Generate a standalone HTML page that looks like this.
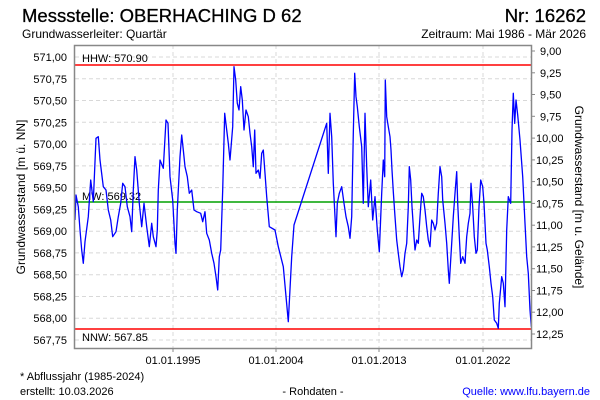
<!DOCTYPE html>
<html><head><meta charset="utf-8"><style>
html,body{margin:0;padding:0;background:#fff;}
svg{display:block;font-family:"Liberation Sans",sans-serif;}
</style></head><body>
<svg width="600" height="400" viewBox="0 0 600 400" xmlns="http://www.w3.org/2000/svg">
<rect width="600" height="400" fill="#fff"/>
<text x="22" y="22" font-size="18.5" font-weight="500" stroke="#000" stroke-width="0.3">Messstelle: OBERHACHING D 62</text>
<text x="586" y="22" font-size="18.5" text-anchor="end" stroke="#000" stroke-width="0.3">Nr: 16262</text>
<text x="22" y="38" font-size="12">Grundwasserleiter: Quartär</text>
<text x="586" y="38" font-size="12" text-anchor="end">Zeitraum: Mai 1986 - Mär 2026</text>
<g stroke="#d8d8d8" stroke-width="1" stroke-dasharray="4,3">
<line x1="75" x2="531" y1="57" y2="57"/><line x1="75" x2="531" y1="78.8" y2="78.8"/><line x1="75" x2="531" y1="100.5" y2="100.5"/><line x1="75" x2="531" y1="122.3" y2="122.3"/><line x1="75" x2="531" y1="144.1" y2="144.1"/><line x1="75" x2="531" y1="165.9" y2="165.9"/><line x1="75" x2="531" y1="187.6" y2="187.6"/><line x1="75" x2="531" y1="209.4" y2="209.4"/><line x1="75" x2="531" y1="231.2" y2="231.2"/><line x1="75" x2="531" y1="252.9" y2="252.9"/><line x1="75" x2="531" y1="274.7" y2="274.7"/><line x1="75" x2="531" y1="296.5" y2="296.5"/><line x1="75" x2="531" y1="318.2" y2="318.2"/><line x1="75" x2="531" y1="340" y2="340"/>
<line x1="173" x2="173" y1="45" y2="348"/><line x1="276" x2="276" y1="45" y2="348"/><line x1="379" x2="379" y1="45" y2="348"/><line x1="483" x2="483" y1="45" y2="348"/>
</g>
<g font-size="11" text-anchor="end">
<text x="67" y="61">571,00</text><text x="67" y="82.8">570,75</text><text x="67" y="104.5">570,50</text><text x="67" y="126.3">570,25</text><text x="67" y="148.1">570,00</text><text x="67" y="169.9">569,75</text><text x="67" y="191.6">569,50</text><text x="67" y="213.4">569,25</text><text x="67" y="235.2">569,00</text><text x="67" y="256.9">568,75</text><text x="67" y="278.7">568,50</text><text x="67" y="300.5">568,25</text><text x="67" y="322.2">568,00</text><text x="67" y="344">567,75</text>
</g>
<g font-size="11">
<text x="540" y="55">9,00</text><text x="540" y="76.8">9,25</text><text x="540" y="98.5">9,50</text><text x="540" y="120.3">9,75</text><text x="536" y="142.1">10,00</text><text x="536" y="163.9">10,25</text><text x="536" y="185.6">10,50</text><text x="536" y="207.4">10,75</text><text x="536" y="229.2">11,00</text><text x="536" y="250.9">11,25</text><text x="536" y="272.7">11,50</text><text x="536" y="294.5">11,75</text><text x="536" y="316.2">12,00</text><text x="536" y="338">12,25</text>
</g>
<g stroke="#888" stroke-width="1">
<line x1="531" x2="535" y1="51" y2="51"/><line x1="531" x2="535" y1="72.8" y2="72.8"/><line x1="531" x2="535" y1="94.5" y2="94.5"/><line x1="531" x2="535" y1="116.3" y2="116.3"/><line x1="531" x2="535" y1="138.1" y2="138.1"/><line x1="531" x2="535" y1="159.9" y2="159.9"/><line x1="531" x2="535" y1="181.6" y2="181.6"/><line x1="531" x2="535" y1="203.4" y2="203.4"/><line x1="531" x2="535" y1="225.2" y2="225.2"/><line x1="531" x2="535" y1="246.9" y2="246.9"/><line x1="531" x2="535" y1="268.7" y2="268.7"/><line x1="531" x2="535" y1="290.5" y2="290.5"/><line x1="531" x2="535" y1="312.2" y2="312.2"/><line x1="531" x2="535" y1="334" y2="334"/>
<line x1="173" x2="173" y1="348" y2="352"/><line x1="276" x2="276" y1="348" y2="352"/><line x1="379" x2="379" y1="348" y2="352"/><line x1="483" x2="483" y1="348" y2="352"/>
</g>
<g font-size="11" text-anchor="middle">
<text x="173" y="364">01.01.1995</text><text x="276" y="364">01.01.2004</text><text x="379" y="364">01.01.2013</text><text x="483" y="364">01.01.2022</text>
</g>
<text transform="translate(25,197) rotate(-90)" font-size="12" text-anchor="middle">Grundwasserstand [m ü. NN]</text>
<text transform="translate(575,197) rotate(90)" font-size="12" text-anchor="middle">Grundwasserstand [m u. Gelände]</text>
<line x1="75" x2="531" y1="65" y2="65" stroke="#ff0000" stroke-width="1.5"/>
<line x1="75" x2="531" y1="329" y2="329" stroke="#ff0000" stroke-width="1.5"/>
<line x1="75" x2="531" y1="202" y2="202" stroke="#00a000" stroke-width="1.5"/>
<text x="82" y="62" font-size="11">HHW: 570.90</text>
<text x="82" y="200" font-size="11">MW: 569.32</text>
<text x="82" y="341" font-size="11">NNW: 567.85</text>
<polyline fill="none" stroke="#0000ff" stroke-width="1.3" stroke-linejoin="round" points="75,220 76,195 78.3,206.7 80,230 81.7,250 83.3,263.3 85,241.7 88.3,216.7 90.7,180 93.3,201.7 96,138.3 98.3,136.7 100,160 103.3,186.7 106,190 108.3,210 110.7,220 112.7,236.7 116,231.7 118.3,216.7 120.7,203.3 122.7,183.3 125,186.7 127.3,206.7 130,216.7 131.7,231.7 133.3,190 135,156.7 136.7,170 139.3,203.3 141.7,226.7 144,203.3 146.7,226.7 149.3,246.7 151.7,223.3 153.3,236.7 156,246.7 157.3,230 158.3,190 160,160 163.3,168.3 166,120 168,123.3 170,176.7 172.7,200 175,243.3 176,253.3 177.3,210 180,156.7 181.7,135 183.3,150 185,166.7 187.3,176.7 189.3,193.3 191.7,190 194,210 196.7,211.7 200.7,213.3 202.7,221.7 205,211.7 206.7,233.3 209.3,240 211.7,253.3 214,263.3 216,276.7 217.7,290 219.3,256.7 220.7,250 222.7,190 224.7,113.3 226.7,130 228.3,143.3 230,160 232.7,126.7 234,66.7 235.7,80 237.3,103.3 239,110 240.7,86.7 242.3,100 244,130 246,110 248.3,116.7 250,133.3 251.7,146.7 253.3,166.7 254.7,130 256,173.3 258.3,170 260,178.3 261.7,153.3 263.3,150 265,173.3 266.7,196.7 269.3,226.7 275,230 278.3,246.7 283.3,266.7 288.3,321.7 291.7,256.7 294,225 326.7,123.3 328.3,173.3 330,113.3 331.7,136.7 333.3,183.3 335,216.7 336,236.7 337.3,203.3 339.3,193.3 341.7,186.7 344,203.3 346,216.7 348.3,226.7 350,238.3 351.7,216.7 353.3,133.3 354.7,73.3 356,96.7 357.3,106.7 359.3,126.7 361.7,146.7 363.3,203.3 365,113.3 366.7,166.7 368.3,206.7 370.7,180 372.7,220 375,196.7 377.3,230 379.3,251.7 381.7,193.3 383.3,160 384.7,176.7 385.3,80 386.7,116.7 388.3,126.7 390,136.7 391,150 392,170 393.3,191.7 395,216.7 396.7,240 398.3,253.3 400,266.7 401.7,276.7 403.3,270 405,253.3 406.7,243.3 408.3,206.7 409.3,166.7 410.7,180 412,206.7 414,236.7 415,250 416.7,240 418.3,243.3 420,216.7 421.7,193.3 423.3,196.7 425,210 426.7,226.7 428.3,240 430,246.7 431.7,220 433.3,223.3 435,230 436.7,223.3 438.3,193.3 440,166.7 441.7,176.7 442.7,200 445,223.3 446.7,243.3 448.3,270 449.3,283.3 450.7,260 453.3,216.7 455,193.3 456.7,171.7 457.7,203.3 459.3,236.7 460.7,263.3 462.7,256.7 465,263.3 466.7,236.7 468.3,223.3 470,213.3 471,183.3 472.7,206.7 474.3,236.7 476,253.3 477.3,250 479,206.7 480.7,180 482.7,186.7 484,203.3 486,243.3 487.3,250 489.3,266.7 491,283.3 492.7,296.7 494.3,320 496.7,323.3 498.3,328.3 499.3,303.3 501.7,276.7 503.3,283.3 505,306.7 506.7,230 508.3,196.7 510.7,203.3 512,130 513.3,93.3 514.7,123.3 516,100 517.7,115 520,140 522.7,176.7 525,223.3 526.7,256.7 528.3,273.3 530,310 531.3,326.7"/>
<rect x="74.5" y="45.5" width="457" height="303" fill="none" stroke="#888" stroke-width="1.5"/>
<text x="20" y="380" font-size="11">* Abflussjahr (1985-2024)</text>
<text x="20" y="395" font-size="11">erstellt:  10.03.2026</text>
<text x="313" y="395" font-size="11" text-anchor="middle">- Rohdaten -</text>
<text x="590" y="395" font-size="11" text-anchor="end" fill="#0000ff">Quelle: www.lfu.bayern.de</text>
</svg>
</body></html>
